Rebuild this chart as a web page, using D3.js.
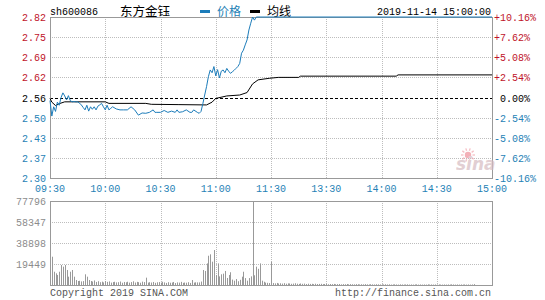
<!DOCTYPE html>
<html>
<head>
<meta charset="utf-8">
<script src="https://cdn.jsdelivr.net/npm/d3@7"></script>
<style>
  html, body { margin: 0; padding: 0; background: #fff; }
  svg { display: block; }
</style>
</head>
<body>
<svg id="chart" width="545" height="300"></svg>
<script>
// intraday chart - sh600086 东方金钰, 2019-11-14

const CODE = "sh600086";
const NAME = "东方金钰";
const STAMP = "2019-11-14 15:00:00";
const PREV_CLOSE = 2.56;

const TIME_LABELS = ["09:30","10:00","10:30","11:00","11:30","13:30","14:00","14:30","15:00"];
const TIME_TICKS  = [0, 30, 60, 90, 120, 150, 180, 210, 240];

const PRICE_LABELS = ["2.30","2.37","2.43","2.50","2.56","2.62","2.69","2.75","2.82"];
const PCT_LABELS   = ["-10.16%","-7.62%","-5.08%","-2.54%","0.00%","+2.54%","+5.08%","+7.62%","+10.16%"];
const PCT_STEPS    = [-0.1016, -0.0762, -0.0508, -0.0254, 0, 0.0254, 0.0508, 0.0762, 0.1016];

const VOL_TICKS  = [19449, 38898, 58347, 77796];

// price, read at minute offsets from 09:30 (120 = 11:30 / 13:00)
const PRICE_T = [0,1,2,3,4,5,6,7,8,9,10,11,12,13,14,15,16,17,18,19,20,21,22,23,24,25,26,27,28,29,30,31,32,33,34,36,38,40,42,44,46,48,50,52,54,56,57,58,60,62,64,66,68,69,70,72,74,76,77,78,80,81,82,83,84,85,86,87,88,89,90,91,92,93,94,95,96,97,98,99,100,101,102,103,104,105,106,107,108,109,110,111,112,240];
const PRICE_V = [2.55,2.50,2.53,2.515,2.545,2.535,2.56,2.575,2.565,2.552,2.566,2.55,2.546,2.547,2.546,2.546,2.542,2.536,2.528,2.52,2.535,2.516,2.53,2.522,2.53,2.52,2.532,2.536,2.541,2.53,2.52,2.535,2.52,2.525,2.53,2.523,2.52,2.52,2.52,2.53,2.52,2.503,2.51,2.509,2.512,2.52,2.512,2.512,2.512,2.518,2.512,2.516,2.512,2.52,2.512,2.514,2.52,2.512,2.512,2.52,2.512,2.509,2.515,2.54,2.568,2.595,2.627,2.649,2.64,2.66,2.63,2.65,2.623,2.645,2.649,2.64,2.654,2.645,2.638,2.643,2.648,2.654,2.66,2.67,2.703,2.713,2.73,2.746,2.778,2.80,2.82,2.81,2.82,2.82];

// average price line
const AVG_T = [0,1,3,5,8,30,32,52,55,70,85,88,90,96,103,107,110,113,119,124,135,136,188,189,240];
const AVG_V = [2.557,2.545,2.534,2.54,2.546,2.546,2.541,2.541,2.538,2.537,2.536,2.545,2.557,2.565,2.568,2.576,2.604,2.617,2.622,2.625,2.625,2.629,2.629,2.633,2.633];

// volume per minute, 0..240
const VOLUME = [
  40700,26200,12300,10800,9300,12300,18500,17000,18500,13900,7700,12300,13900,7700,4600,3700,3900,3300,3600,9900,
  7700,4600,3700,3200,4200,2800,3500,2600,3100,2400,3700,2900,3300,2200,2700,3000,2400,2600,3200,2100,
  2800,2500,3000,2200,2700,3400,2300,2900,2600,2100,3100,2700,6800,2200,2600,2300,2800,2000,2500,2700,
  2200,3000,2400,1900,2600,2100,2300,2800,1800,2400,2200,2900,2000,2300,2100,2600,1900,4600,2200,2500,
  2400,2400,3200,13900,13000,20000,27100,28400,21600,32400,9300,20000,8000,9900,10500,13000,6500,9300,11800,5000,
  4000,5500,3500,4800,7700,12300,6400,4000,6400,8000,77796,9000,17000,15000,20000,4000,3000,2200,2000,1800,
  21600,1800,1500,1900,1400,1600,1300,1700,1200,1500,1400,1100,1300,1600,1200,1000,1400,1100,1300,900,
  1200,1000,1100,800,1200,900,1000,1100,800,900,1000,700,900,800,1000,700,800,900,600,800,
  700,900,600,800,700,600,800,700,500,700,600,800,600,500,700,600,500,700,600,500,
  600,500,700,500,600,400,500,600,500,400,600,500,400,500,600,400,500,400,500,600,
  400,500,400,500,400,600,400,500,400,500,400,500,400,400,500,400,500,400,600,500,
  400,500,400,500,400,500,400,500,400,500,800
];

// ── Layout ────────────────────────────────────────────────────
const X0 = 50, X1 = 492;
const P_TOP = 17, P_BOT = 178;
const V_TOP = 201, V_BOT = 285;

const FONT = "Liberation Mono, DejaVu Sans Mono, monospace";
const CJK  = "Noto Sans CJK SC, sans-serif";
const RED = "#c0142a", BLUE = "#1f82b6", GRAY = "#8c8c8c";
const LINE_BLUE = "#1c7cba";

const svg = d3.select("#chart");

const xs = d3.scaleLinear().domain([0, 240]).range([X0, X1]);
const yp = d3.scaleLinear()
  .domain([PREV_CLOSE * (1 - 0.1016), PREV_CLOSE * (1 + 0.1016)])
  .range([P_BOT, P_TOP]);
const yv = d3.scaleLinear().domain([0, 77796]).range([V_BOT, V_TOP]);

const crisp = v => Math.round(v) + 0.5;

// ── Header ────────────────────────────────────────────────────
svg.append("text").attr("x", 50).attr("y", 15)
  .attr("font-family", FONT).attr("font-size", "10px").attr("fill", "#000")
  .text(CODE);
svg.append("text").attr("x", 120).attr("y", 16)
  .attr("font-family", CJK).attr("font-size", "12.5px").attr("fill", "#000")
  .text(NAME);

svg.append("rect").attr("x", 200).attr("y", 10).attr("width", 10).attr("height", 3).attr("fill", LINE_BLUE);
svg.append("text").attr("x", 217).attr("y", 16)
  .attr("font-family", CJK).attr("font-size", "12px").attr("fill", BLUE).text("价格");
svg.append("rect").attr("x", 250).attr("y", 10).attr("width", 10).attr("height", 3).attr("fill", "#000");
svg.append("text").attr("x", 267).attr("y", 16)
  .attr("font-family", CJK).attr("font-size", "12px").attr("fill", "#000").text("均线");

svg.append("text").attr("x", 491).attr("y", 15).attr("text-anchor", "end")
  .attr("font-family", FONT).attr("font-size", "10px").attr("fill", "#000")
  .text(STAMP);

// ── Grid ──────────────────────────────────────────────────────
const grid = svg.append("g")
  .attr("stroke", "#bdbdbd").attr("stroke-dasharray", "1 1").attr("fill", "none");

PCT_STEPS.forEach(s => {
  if (s === 0 || Math.abs(s) === 0.1016) return;
  const y = crisp(yp(PREV_CLOSE * (1 + s)));
  grid.append("line").attr("x1", X0).attr("x2", X1).attr("y1", y).attr("y2", y);
});
TIME_TICKS.slice(1, -1).forEach(t => {
  const x = crisp(xs(t));
  grid.append("line").attr("x1", x).attr("x2", x).attr("y1", P_TOP).attr("y2", P_BOT);
  grid.append("line").attr("x1", x).attr("x2", x).attr("y1", V_TOP).attr("y2", V_BOT);
});
VOL_TICKS.slice(0, -1).forEach(v => {
  const y = crisp(yv(v));
  grid.append("line").attr("x1", X0).attr("x2", X1).attr("y1", y).attr("y2", y);
});

// previous close
svg.append("line")
  .attr("x1", X0).attr("x2", X1)
  .attr("y1", crisp(yp(PREV_CLOSE))).attr("y2", crisp(yp(PREV_CLOSE)))
  .attr("stroke", "#000").attr("stroke-dasharray", "3 2");

// ── Frames ────────────────────────────────────────────────────
svg.append("rect").attr("x", X0 + 0.5).attr("y", P_TOP + 0.5)
  .attr("width", X1 - X0).attr("height", P_BOT - P_TOP)
  .attr("fill", "none").attr("stroke", "#999");
svg.append("rect").attr("x", X0 + 0.5).attr("y", V_TOP + 0.5)
  .attr("width", X1 - X0).attr("height", V_BOT - V_TOP)
  .attr("fill", "none").attr("stroke", "#999");

// ── Axis labels ───────────────────────────────────────────────
PCT_STEPS.forEach((s, i) => {
  const y = yp(PREV_CLOSE * (1 + s));
  const col = s > 0 ? RED : s < 0 ? BLUE : "#000";
  svg.append("text").attr("x", 46).attr("y", y + 4).attr("text-anchor", "end")
    .attr("font-family", FONT).attr("font-size", "10px").attr("fill", col)
    .text(PRICE_LABELS[i]);
  svg.append("text").attr("x", s === 0 ? 500 : 494).attr("y", y + 4)
    .attr("font-family", FONT).attr("font-size", "10px").attr("fill", col)
    .text(PCT_LABELS[i]);
});

TIME_TICKS.forEach((t, i) => {
  svg.append("text").attr("x", xs(t)).attr("y", 192).attr("text-anchor", "middle")
    .attr("font-family", FONT).attr("font-size", "10px").attr("fill", BLUE)
    .text(TIME_LABELS[i]);
});

VOL_TICKS.forEach(v => {
  svg.append("text").attr("x", 46).attr("y", yv(v) + 4).attr("text-anchor", "end")
    .attr("font-family", FONT).attr("font-size", "10px").attr("fill", GRAY)
    .text(v);
});

// ── Watermark ─────────────────────────────────────────────────
const wm = svg.append("g").attr("opacity", 0.7);
wm.append("circle").attr("cx", 468).attr("cy", 155).attr("r", 3.2).attr("fill", "#ee8f99");
d3.range(10).forEach(k => {
  const a = k / 10 * Math.PI * 2;
  wm.append("line")
    .attr("x1", 468 + Math.cos(a) * 4.5).attr("y1", 155 + Math.sin(a) * 4.5)
    .attr("x2", 468 + Math.cos(a) * 7).attr("y2", 155 + Math.sin(a) * 7)
    .attr("stroke", "#f2a6ae").attr("stroke-width", 1.3);
});
wm.append("text").attr("x", 456).attr("y", 170)
  .attr("font-family", "DejaVu Sans, sans-serif").attr("font-size", "17px")
  .attr("font-style", "italic").attr("font-weight", "bold")
  .attr("fill", "#d6bcc1").text("sina");

// ── Volume bars ───────────────────────────────────────────────
svg.append("g").selectAll("line").data(VOLUME).join("line")
  .attr("x1", (d, i) => crisp(xs(i))).attr("x2", (d, i) => crisp(xs(i)))
  .attr("y1", V_BOT).attr("y2", d => yv(d))
  .attr("stroke", "#999").attr("stroke-width", 1);

// ── Lines ─────────────────────────────────────────────────────
const line = d3.line().x(d => xs(d[0])).y(d => yp(d[1]));

svg.append("path")
  .attr("d", line(AVG_T.map((t, i) => [t, AVG_V[i]])))
  .attr("fill", "none").attr("stroke", "#000").attr("stroke-width", 1);

svg.append("path")
  .attr("d", line(PRICE_T.map((t, i) => [t, PRICE_V[i]])))
  .attr("fill", "none").attr("stroke", LINE_BLUE).attr("stroke-width", 1);

// ── Footer ────────────────────────────────────────────────────
svg.append("text").attr("x", 50).attr("y", 296)
  .attr("font-family", FONT).attr("font-size", "10px").attr("fill", "#555")
  .text("Copyright 2019 SINA.COM");
svg.append("text").attr("x", 491).attr("y", 296).attr("text-anchor", "end")
  .attr("font-family", FONT).attr("font-size", "10px").attr("fill", "#555")
  .text("http://finance.sina.com.cn");
</script>
</body>
</html>
